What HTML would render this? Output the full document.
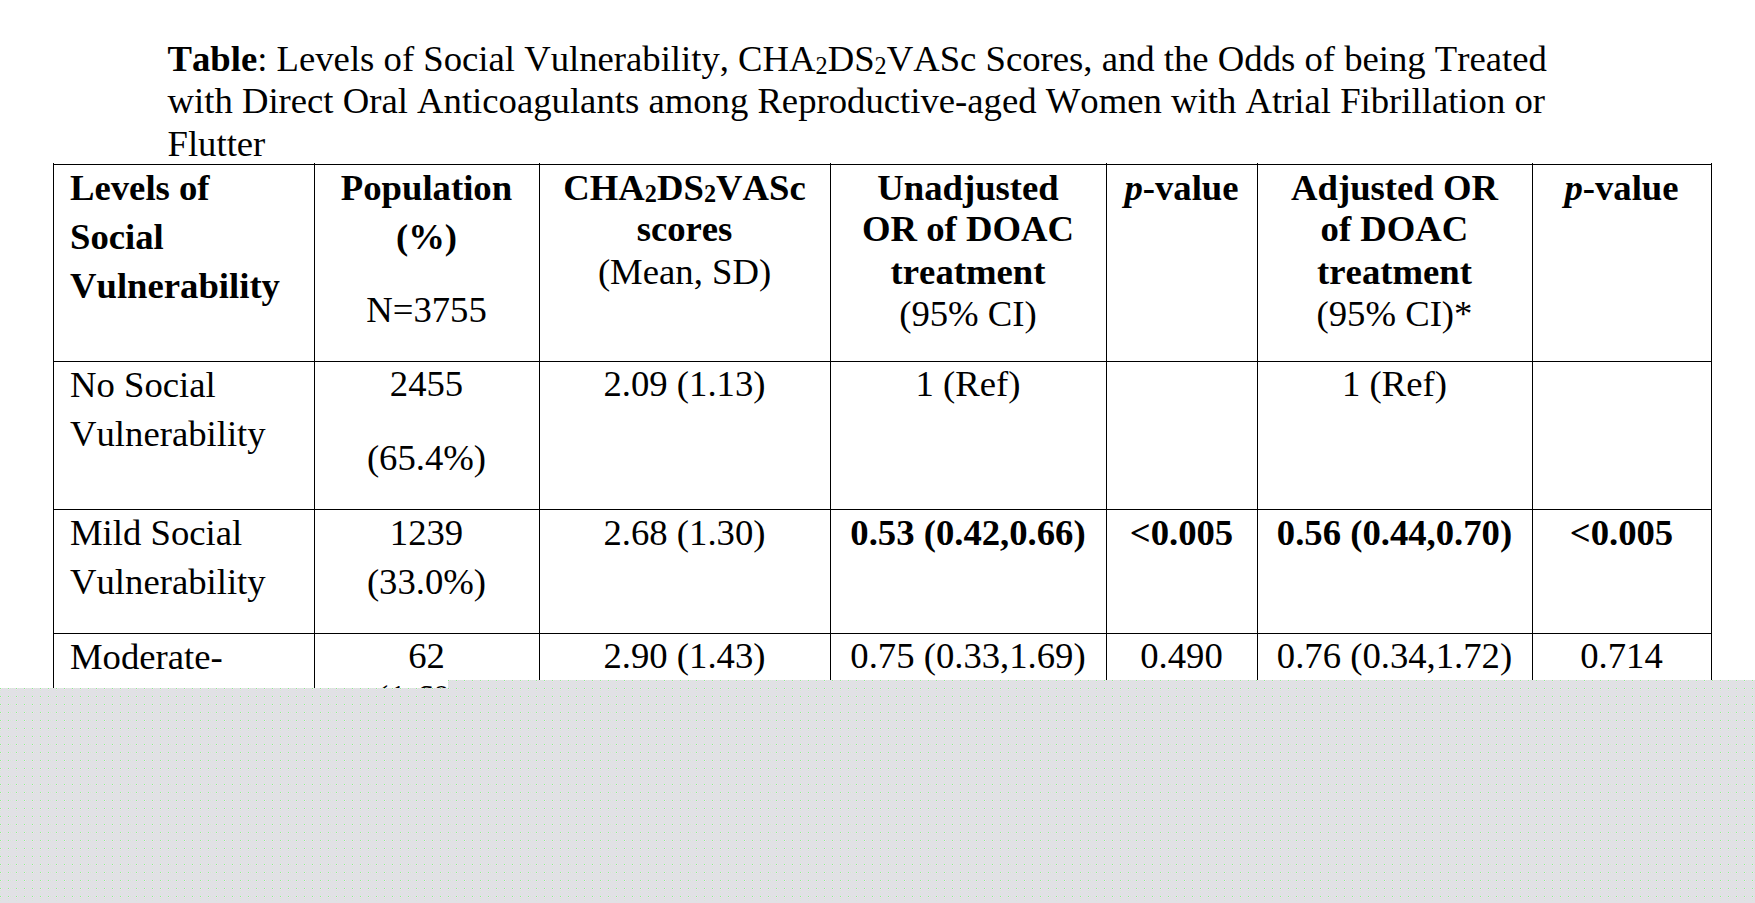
<!DOCTYPE html>
<html><head><meta charset="utf-8"><title>Table</title>
<style>
html,body{margin:0;padding:0;background:#fff;}
body{width:1755px;height:903px;position:relative;overflow:hidden;font-family:"Liberation Serif","Times New Roman",serif;font-size:36.70px;color:#000;}
.t{position:absolute;line-height:1;white-space:nowrap;font-kerning:none;font-variant-ligatures:none;font-feature-settings:"kern" 0,"liga" 0;}
.c{width:600px;text-align:center;}
sub{font-size:0.66em;vertical-align:-2px;line-height:0;}
.cap sub{vertical-align:-3px;}
.h{position:absolute;height:1px;background:#000;}
.v{position:absolute;width:1px;background:#000;}
#grey{position:absolute;left:0;top:680px;}
</style></head><body>

<div class="t cap" style="left:167.5px;top:41.2px"><b>Table</b>: Levels of Social Vulnerability, CHA<sub>2</sub>DS<sub>2</sub>VASc Scores, and the Odds of being Treated</div>
<div class="t cap" style="left:167.5px;top:83.2px">with Direct Oral Anticoagulants among Reproductive-aged Women with Atrial Fibrillation or</div>
<div class="t cap" style="left:167.5px;top:126.2px">Flutter</div>
<div class="t" style="left:70.0px;top:170.2px"><b>Levels of</b></div>
<div class="t" style="left:70.0px;top:219.2px"><b>Social</b></div>
<div class="t" style="left:70.0px;top:268.2px"><b>Vulnerability</b></div>
<div class="t c" style="left:126.5px;top:170.2px"><b>Population</b></div>
<div class="t c" style="left:126.5px;top:219.2px"><b>(%)</b></div>
<div class="t c" style="left:126.5px;top:292.2px">N=3755</div>
<div class="t c" style="left:384.5px;top:170.2px"><b>CHA<sub>2</sub>DS<sub>2</sub>VASc</b></div>
<div class="t c" style="left:384.5px;top:211.2px"><b>scores</b></div>
<div class="t c" style="left:384.5px;top:254.2px">(Mean, SD)</div>
<div class="t c" style="left:668.0px;top:170.2px"><b>Unadjusted</b></div>
<div class="t c" style="left:668.0px;top:211.2px"><b>OR of DOAC</b></div>
<div class="t c" style="left:668.0px;top:254.2px"><b>treatment</b></div>
<div class="t c" style="left:668.0px;top:296.2px">(95% CI)</div>
<div class="t c" style="left:881.5px;top:170.2px"><b><i>p</i>-value</b></div>
<div class="t c" style="left:1094.5px;top:170.2px"><b>Adjusted OR</b></div>
<div class="t c" style="left:1094.5px;top:211.2px"><b>of DOAC</b></div>
<div class="t c" style="left:1094.5px;top:254.2px"><b>treatment</b></div>
<div class="t c" style="left:1094.5px;top:296.2px">(95% CI)*</div>
<div class="t c" style="left:1321.5px;top:170.2px"><b><i>p</i>-value</b></div>
<div class="t" style="left:70.0px;top:367.2px">No Social</div>
<div class="t" style="left:70.0px;top:416.2px">Vulnerability</div>
<div class="t c" style="left:126.5px;top:366.2px">2455</div>
<div class="t c" style="left:126.5px;top:440.2px">(65.4%)</div>
<div class="t c" style="left:384.5px;top:366.2px">2.09 (1.13)</div>
<div class="t c" style="left:668.0px;top:366.2px">1 (Ref)</div>
<div class="t c" style="left:1094.5px;top:366.2px">1 (Ref)</div>
<div class="t" style="left:70.0px;top:515.2px">Mild Social</div>
<div class="t" style="left:70.0px;top:564.2px">Vulnerability</div>
<div class="t c" style="left:126.5px;top:515.2px">1239</div>
<div class="t c" style="left:126.5px;top:564.2px">(33.0%)</div>
<div class="t c" style="left:384.5px;top:515.2px">2.68 (1.30)</div>
<div class="t c" style="left:668.0px;top:515.2px"><b>0.53 (0.42,0.66)</b></div>
<div class="t c" style="left:881.5px;top:515.2px"><b>&lt;0.005</b></div>
<div class="t c" style="left:1094.5px;top:515.2px"><b>0.56 (0.44,0.70)</b></div>
<div class="t c" style="left:1321.5px;top:515.2px"><b>&lt;0.005</b></div>
<div class="t" style="left:70.0px;top:639.2px">Moderate-</div>
<div class="t c" style="left:126.5px;top:638.2px">62</div>
<div class="t c" style="left:126.5px;top:680.2px">(1.6%)</div>
<div class="t c" style="left:384.5px;top:638.2px">2.90 (1.43)</div>
<div class="t c" style="left:668.0px;top:638.2px">0.75 (0.33,1.69)</div>
<div class="t c" style="left:881.5px;top:638.2px">0.490</div>
<div class="t c" style="left:1094.5px;top:638.2px">0.76 (0.34,1.72)</div>
<div class="t c" style="left:1321.5px;top:638.2px">0.714</div>
<div class="h" style="left:53px;top:164px;width:1659px"></div>
<div class="h" style="left:53px;top:361px;width:1659px"></div>
<div class="h" style="left:53px;top:509px;width:1659px"></div>
<div class="h" style="left:53px;top:633px;width:1659px"></div>
<div class="v" style="left:53px;top:163px;height:525px"></div>
<div class="v" style="left:314px;top:163px;height:525px"></div>
<div class="v" style="left:539px;top:163px;height:525px"></div>
<div class="v" style="left:830px;top:163px;height:525px"></div>
<div class="v" style="left:1106px;top:163px;height:525px"></div>
<div class="v" style="left:1257px;top:163px;height:525px"></div>
<div class="v" style="left:1532px;top:163px;height:525px"></div>
<div class="v" style="left:1711px;top:163px;height:525px"></div>
<svg id="grey" width="1755" height="223" viewBox="0 680 1755 223">
<defs><pattern id="dots" x="0" y="0" width="8" height="8" patternUnits="userSpaceOnUse"><rect width="8" height="8" fill="#e1e1e5"/><rect width="1" height="1" fill="#80fc80"/><rect x="1" width="1" height="1" fill="#f6d8f6"/><rect y="1" width="1" height="1" fill="#f6d8f6"/><rect x="2" width="1" height="1" fill="#d4ead4"/><rect y="2" width="1" height="1" fill="#d4ead4"/><rect x="3" width="1" height="1" fill="#e8dcea"/><rect y="3" width="1" height="1" fill="#e8dcea"/><rect x="4" width="1" height="1" fill="#dbe6db"/><rect y="4" width="1" height="1" fill="#dbe6db"/></pattern></defs>
<path d="M0 688H448V680H1755V903H0Z" fill="url(#dots)"/>
</svg>
</body></html>
